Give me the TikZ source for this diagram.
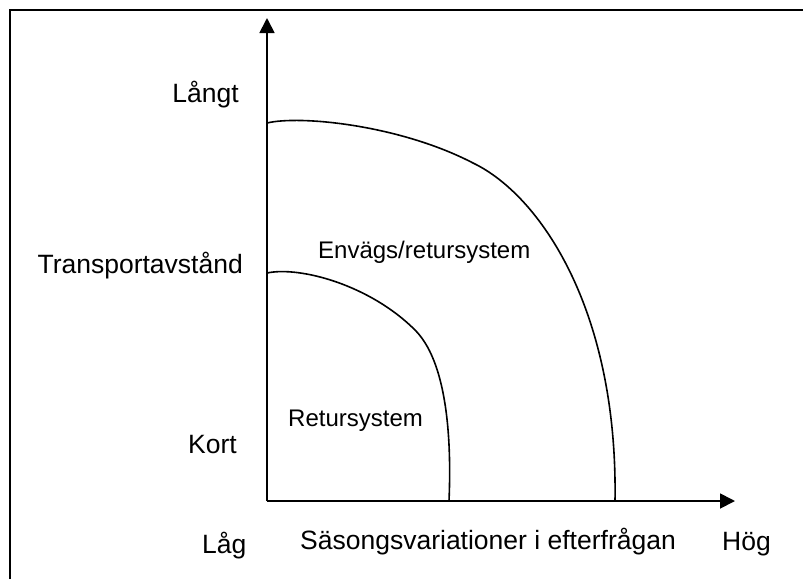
\documentclass[tikz,border=0pt]{standalone}
\usepackage{fontspec}
\setmainfont{Liberation Sans}
\usetikzlibrary{arrows.meta}

\begin{document}
\begin{tikzpicture}[x=1pt, y=-1pt,
    axislbl/.style={inner sep=0pt, font=\fontsize{26.5}{30}\selectfont},
    zonelbl/.style={inner sep=0pt, font=\fontsize{24}{28}\selectfont},
    axisline/.style={line width=1.8pt, -{Triangle[length=15pt, width=15pt]}},
    zoneline/.style={line width=1.6pt}]
  \useasboundingbox (0,0) rectangle (803,579);
  % frame (only left and top edges are visible)
  \draw[line width=1.6pt] (10,579) -- (10,10) -- (803,10);

  % axes
  \coordinate (origo) at (267,501);
  \coordinate (ytop) at (267,18);
  \coordinate (xend) at (735,501);
  \draw[axisline] (origo) -- (ytop);
  \draw[axisline] (origo) -- (xend);

  % zone borders
  \draw[zoneline] (267,123) .. controls (300,115) and (400,125) .. (473,163)
    .. controls (540,195) and (618,310) .. (615,501);
  \draw[zoneline] (267,273) .. controls (300,266) and (370,285) .. (415,330)
    .. controls (445,360) and (452,430) .. (449,501);

  % labels
  \node[axislbl, anchor=base east] (langt) at (239,102) {Långt};
  \node[axislbl, anchor=base east] (avstand) at (243,273) {Transportavstånd};
  \node[axislbl, anchor=base east] (kort) at (237,453) {Kort};
  \node[axislbl, anchor=base west] (lag) at (202,553) {Låg};
  \node[axislbl, anchor=base west] (sasong) at (300,549) {Säsongsvariationer i efterfrågan};
  \node[axislbl, anchor=base west] (hog) at (722,550) {Hög};
  \node[zonelbl, anchor=base west] (envags) at (318,258) {Envägs/retursystem};
  \node[zonelbl, anchor=base west] (retur) at (288,426) {Retursystem};
\end{tikzpicture}
\end{document}
